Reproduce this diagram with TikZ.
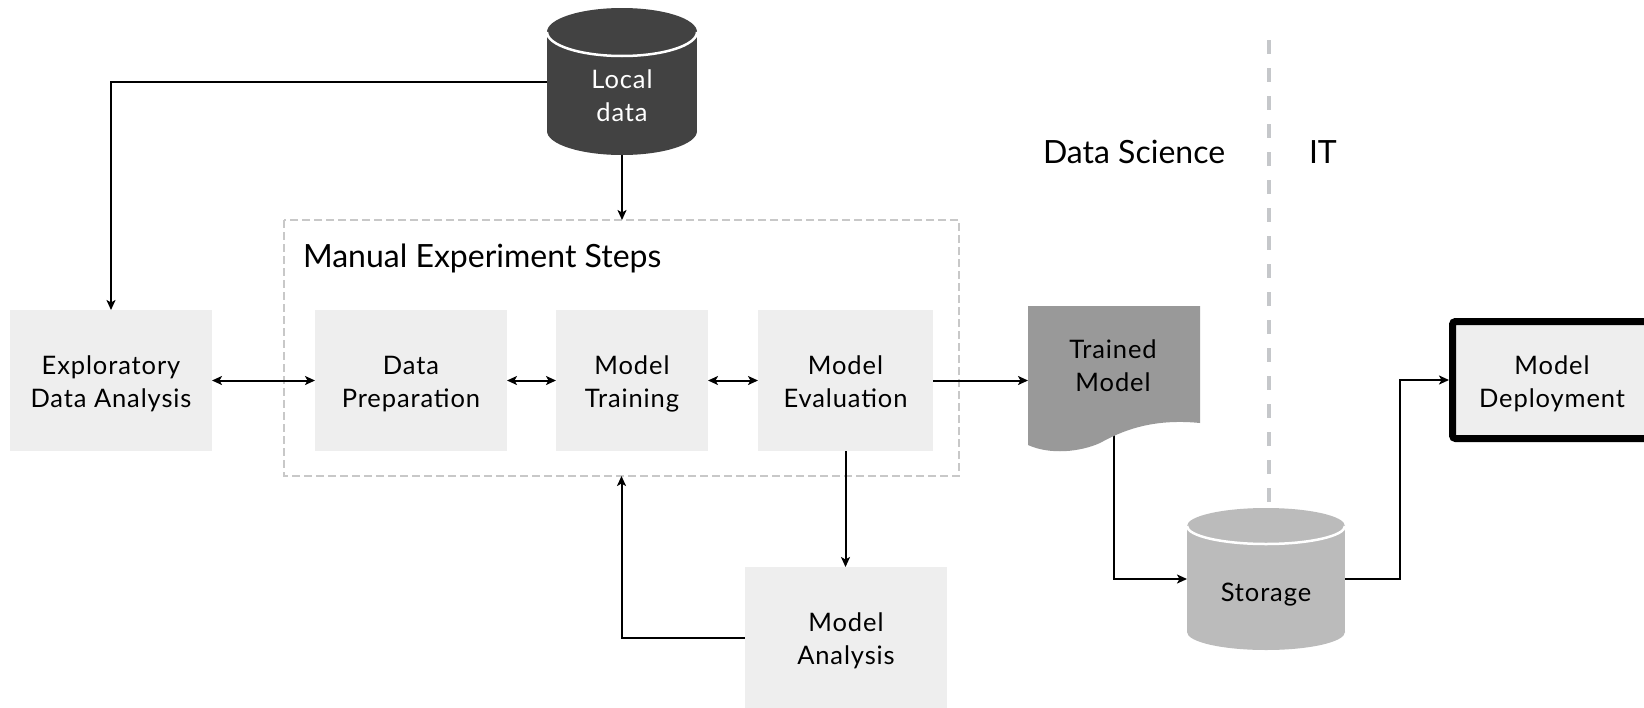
\documentclass[tikz,border=0pt]{standalone}
\usepackage{fontspec}
\setmainfont{Lato}
\newfontfamily\dgboxfamily[LetterSpace=3.5]{Lato}
\usetikzlibrary{arrows.meta,calc}

\definecolor{boxgray}{HTML}{EEEEEE}
\definecolor{dbdark}{HTML}{424242}
\definecolor{docgray}{HTML}{999999}
\definecolor{storegray}{HTML}{BBBBBB}
\definecolor{framegray}{HTML}{C8C8C8}
\definecolor{divgray}{HTML}{C5C7CA}

\newcommand\dgboxfont{\dgboxfamily\fontsize{25.5pt}{33pt}\selectfont}
\newcommand\dgheadfont{\fontsize{32pt}{38pt}\selectfont}

\pgfdeclarelayer{background}
\pgfsetlayers{background,main}

\begin{document}
\begin{tikzpicture}[x=1pt,y=-1pt,
  every node/.style={inner sep=0pt, outer sep=0pt},
  twoline/.style={align=center, font=\dgboxfont, text height=54pt, text depth=0pt},
  box/.style={fill=boxgray, twoline, minimum height=141pt},
  conn/.style={line width=2pt, >={Stealth[length=10pt,width=9pt,inset=2.5pt]}},
  head/.style={anchor=base west, font=\dgheadfont},
  frame/.style={draw=framegray, line width=2pt, dash pattern=on 8pt off 4pt},
  divider/.style={draw=divgray, line width=4pt, dash pattern=on 14pt off 14pt},
  whitearc/.style={draw=white, line width=2.5pt},
]
\useasboundingbox (0,0) rectangle (1644,707);
\begin{pgfonlayer}{background}
  \fill[white] (0,0) rectangle (1644,707);
\end{pgfonlayer}

% --- process boxes ---
\node[box, minimum width=202pt] (eda) at (111,380.5) {Exploratory\\Data Analysis};
\node[box, minimum width=192pt] (prep) at (411,380.5) {Data\\Preparation};
\node[box, minimum width=152pt] (train) at (632,380.5) {Model\\Training};
\node[box, minimum width=175pt] (eval) at (845.5,380.5) {Model\\Evaluation};
\node[box, minimum width=202pt] (analysis) at (846,637.5) {Model\\Analysis};
\node[box, draw=black, line width=7pt, rounded corners=3pt, outer sep=3.5pt,
      minimum width=199pt, minimum height=117pt] (deploy) at (1552,380) {Model\\Deployment};

% --- frame around the manual steps ---
\node[minimum width=675pt, minimum height=256pt] (steps) at (621.5,348) {};
\node[head] (stepslabel) at (303,267) {Manual Experiment Steps};

% --- local data cylinder ---
\node[minimum width=150pt, minimum height=147pt] (local) at (622,81.5) {};
\fill[dbdark] (547,32) rectangle (697,131);
\fill[dbdark] (622,131) ellipse [x radius=75, y radius=24];
\fill[dbdark] (622,32) ellipse [x radius=75, y radius=24];
\draw[whitearc] (547,32) .. controls (547,45.25) and (580.6,56) .. (622,56)
                .. controls (663.4,56) and (697,45.25) .. (697,32);
\node[twoline, text=white] (localtext) at (622,94.5) {Local\\data};

% --- trained model document ---
\node[minimum width=172pt, minimum height=146pt] (trained) at (1114,379) {};
\fill[docgray] (1028,306) -- (1200,306) -- (1200,423)
  .. controls (1150,418) and (1120,432) .. (1100,443)
  .. controls (1080,452) and (1050,455) .. (1028,445) -- cycle;
\node[twoline] (trainedtext) at (1113,364.5) {Trained\\Model};

% --- storage cylinder ---
\node[minimum width=158pt, minimum height=142pt] (storage) at (1266,579) {};
\fill[storegray] (1187,526) rectangle (1345,632);
\fill[storegray] (1266,632) ellipse [x radius=79, y radius=18];
\fill[storegray] (1266,526) ellipse [x radius=79, y radius=18];
\draw[whitearc] (1187,526) .. controls (1187,535.9) and (1222.4,544) .. (1266,544)
                .. controls (1309.6,544) and (1345,535.9) .. (1345,526);
\node[font=\dgboxfont, anchor=base] (storagetext) at (1266,601) {Storage};

% --- team labels ---
\node[head] (dslabel) at (1043,163) {Data Science};
\node[head] (itlabel) at (1309,163) {IT};

\begin{pgfonlayer}{background}
  \draw[frame] (steps.north west) rectangle (steps.south east);
  \draw[divider] (1269,40) -- (1269,503);

  \draw[conn,->] (local.west) -| (eda.north);
  \draw[conn,->] (local.south) -- (local.south |- steps.north);
  \draw[conn,<->] (eda.east) -- (prep.west);
  \draw[conn,<->] (prep.east) -- (train.west);
  \draw[conn,<->] (train.east) -- (eval.west);
  \draw[conn,->] (eval.east) -- (eval.east -| trained.west);
  \draw[conn,->] (eval.south) -- (eval.south |- analysis.north);
  \draw[conn,->] (analysis.west) -| (steps.south);
  \draw[conn,->] (trained.center) |- (storage.west);
  \draw[conn,->] (storage.east) -- ++(55,0) |- (deploy.west);
\end{pgfonlayer}
\end{tikzpicture}
\end{document}
